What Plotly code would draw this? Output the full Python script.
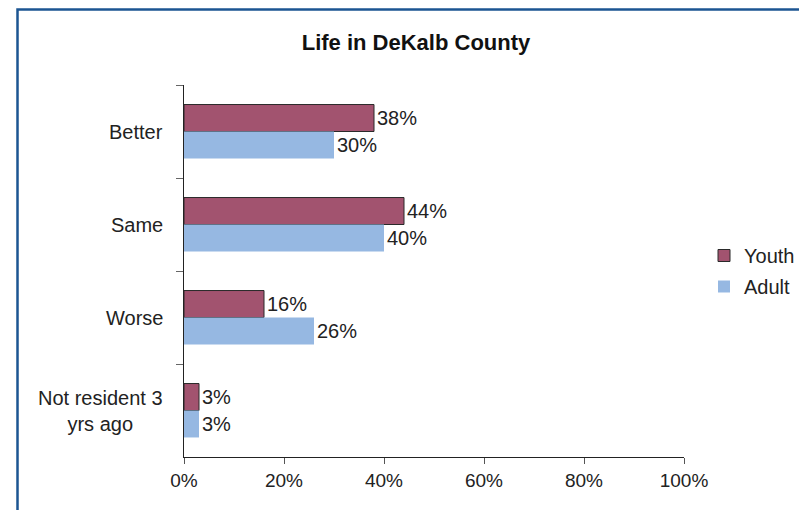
import plotly.graph_objects as go

categories = ["Better", "Same", "Worse", "Not resident 3<br>yrs ago"]
youth = [38, 44, 16, 3]
adult = [30, 40, 26, 3]
x_ticks = [0, 20, 40, 60, 80, 100]
x_tick_labels = ["0%", "20%", "40%", "60%", "80%", "100%"]

FONT = "Liberation Sans, Arial, sans-serif"
TXT = "#222222"

# the page body adds an 8px margin, so page coords = figure coords + 8
fig = go.Figure()
fig.add_trace(go.Bar(
    y=categories, x=youth, orientation="h", name="Youth", legendgroup="y",
    marker=dict(color="#A2536F", line=dict(color="#2a2a2a", width=1)),
    text=[f"{v}%" for v in youth], textposition="outside",
    textfont=dict(family=FONT, size=20, color=TXT), cliponaxis=False,
))
fig.add_trace(go.Bar(
    y=categories, x=adult, orientation="h", name="Adult", legendgroup="a",
    marker=dict(color="#96B8E2", line=dict(width=0)),
    text=[f"{v}%" for v in adult], textposition="outside",
    textfont=dict(family=FONT, size=20, color=TXT), cliponaxis=False,
))

annotations = []
for c in categories:
    annotations.append(dict(
        x=0, xref="paper", y=c, yref="y", text=c, showarrow=False,
        xanchor="right", align="center", xshift=-19,
        font=dict(family=FONT, size=20, color=TXT),
    ))

fig.update_layout(
    width=799, height=502,
    margin=dict(l=176, r=123, t=77, b=53, autoexpand=False),
    paper_bgcolor="white", plot_bgcolor="white",
    barmode="group", bargap=0.42, bargroupgap=0,
    title=dict(text="<b>Life in DeKalb County</b>", x=(408 / 799), xanchor="center",
               y=1 - 34 / 502, yanchor="middle",
               font=dict(family=FONT, size=22, color="#111111")),
    font=dict(family=FONT, size=20, color=TXT),
    showlegend=True,
    legend=dict(x=1.04, xanchor="left", y=0.5, yanchor="middle",
                font=dict(family=FONT, size=20, color=TXT),
                bgcolor="rgba(0,0,0,0)", traceorder="grouped", tracegroupgap=2),
    annotations=annotations,
    xaxis=dict(range=[0, 100], tickvals=x_ticks, ticktext=x_tick_labels,
               showgrid=False, zeroline=False, showline=True, linecolor="#222",
               linewidth=1, ticks="outside", ticklen=6, tickcolor="#555",
               tickfont=dict(family=FONT, size=19, color=TXT), fixedrange=True),
    yaxis=dict(categoryorder="array", categoryarray=categories, autorange="reversed",
               showgrid=False, zeroline=False, showline=True, linecolor="#222",
               linewidth=1, ticks="outside", ticklen=7, tickcolor="#666",
               tickson="boundaries", showticklabels=False, fixedrange=True),
    shapes=[dict(type="rect", xref="paper", yref="paper",
                 x0=(17.5 - 184) / 500, x1=(815 - 184) / 500,
                 y0=(457 - 520) / 372, y1=(457 - 9.5) / 372,
                 line=dict(color="#1C5592", width=2.5), fillcolor="rgba(0,0,0,0)",
                 layer="below")],
)

fig.write_html("out.html")
